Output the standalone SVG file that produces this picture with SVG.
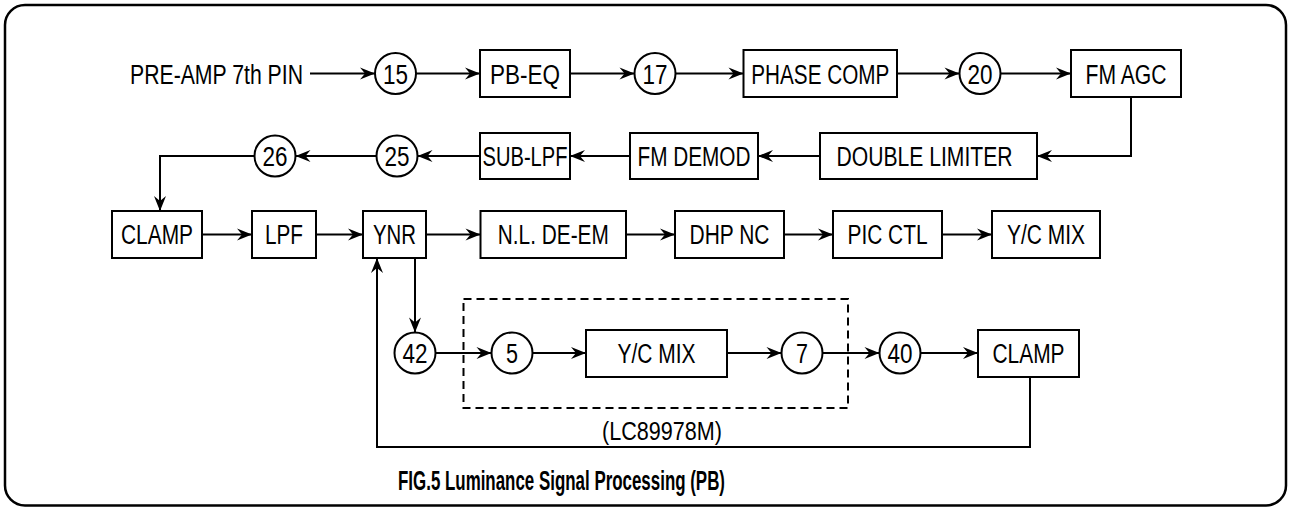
<svg xmlns="http://www.w3.org/2000/svg" width="1289" height="510" viewBox="0 0 1289 510">
<style>
.b{fill:#fff;stroke:#000;stroke-width:2}
.c{fill:#fff;stroke:#000;stroke-width:2}
.t{font-family:"Liberation Sans",Arial,sans-serif;font-size:27px;fill:#000;text-anchor:middle}
.l{fill:none;stroke:#000;stroke-width:2}
.d{fill:none;stroke:#000;stroke-width:2;stroke-dasharray:8 5}
.ti{font-family:"Liberation Sans",Arial,sans-serif;font-size:27px;font-weight:bold;fill:#000;text-anchor:middle}
</style>
<defs>
<marker id="ah" viewBox="-16 -7 17 14" refX="0" refY="0" markerWidth="17" markerHeight="14" markerUnits="userSpaceOnUse" orient="auto">
<path d="M0,0 L-15,-6 L-10,0 L-15,6 Z" fill="#000"/>
</marker>
</defs>
<rect x="5" y="5" width="1281" height="500.5" rx="20" ry="20" fill="none" stroke="#000" stroke-width="2.5"/>

<g id="connectors">
<path class="l" marker-end="url(#ah)" d="M310,73.5 H375"/>
<path class="l" marker-end="url(#ah)" d="M416,73.5 H480"/>
<path class="l" marker-end="url(#ah)" d="M570,73.5 H634.5"/>
<path class="l" marker-end="url(#ah)" d="M675.5,73.5 H743.5"/>
<path class="l" marker-end="url(#ah)" d="M897,73.5 H959.5"/>
<path class="l" marker-end="url(#ah)" d="M1000.5,73.5 H1071"/>
<path class="l" marker-end="url(#ah)" d="M1131,97 V156 H1037"/>
<path class="l" marker-end="url(#ah)" d="M820,156 H758"/>
<path class="l" marker-end="url(#ah)" d="M630,156 H570"/>
<path class="l" marker-end="url(#ah)" d="M480,156 H417.5"/>
<path class="l" marker-end="url(#ah)" d="M376.5,156 H295.5"/>
<path class="l" marker-end="url(#ah)" d="M254.5,156 H160 V211"/>
<path class="l" marker-end="url(#ah)" d="M202,234.5 H252"/>
<path class="l" marker-end="url(#ah)" d="M316,234.5 H363"/>
<path class="l" marker-end="url(#ah)" d="M426,234.5 H480.5"/>
<path class="l" marker-end="url(#ah)" d="M626,234.5 H675"/>
<path class="l" marker-end="url(#ah)" d="M784,234.5 H833"/>
<path class="l" marker-end="url(#ah)" d="M942,234.5 H992"/>
<path class="l" marker-end="url(#ah)" d="M415,258 V332.5"/>
<path class="l" marker-end="url(#ah)" d="M435.5,353 H491.5"/>
<path class="l" marker-end="url(#ah)" d="M532.5,353 H586"/>
<path class="l" marker-end="url(#ah)" d="M727,353 H781.5"/>
<path class="l" marker-end="url(#ah)" d="M822.5,353 H879.5"/>
<path class="l" marker-end="url(#ah)" d="M920.5,353 H978"/>
<path class="l" marker-end="url(#ah)" d="M1030,377 V447 H377 V258"/>
</g>

<g id="ic-box"><rect class="d" x="463.5" y="299" width="384.5" height="109"/><text class="t" x="662" y="440" textLength="120" lengthAdjust="spacingAndGlyphs" style="font-size:26px">(LC89978M)</text></g>

<g id="input"><text class="t" x="130" y="83.5" textLength="173" lengthAdjust="spacingAndGlyphs" style="text-anchor:start">PRE-AMP 7th PIN</text></g>
<g id="p15"><circle class="c" cx="395.5" cy="73.5" r="20.5"/><text class="t" x="395.5" y="83.5" textLength="25" lengthAdjust="spacingAndGlyphs">15</text></g>
<g id="pbeq"><rect class="b" x="480" y="50" width="90" height="47"/><text class="t" x="525" y="83.5" textLength="70" lengthAdjust="spacingAndGlyphs">PB-EQ</text></g>
<g id="p17"><circle class="c" cx="655" cy="73.5" r="20.5"/><text class="t" x="655" y="83.5" textLength="25" lengthAdjust="spacingAndGlyphs">17</text></g>
<g id="phase"><rect class="b" x="743.5" y="50" width="153.5" height="47"/><text class="t" x="820.3" y="83.5" textLength="138" lengthAdjust="spacingAndGlyphs">PHASE COMP</text></g>
<g id="p20"><circle class="c" cx="980" cy="73.5" r="20.5"/><text class="t" x="980" y="83.5" textLength="25" lengthAdjust="spacingAndGlyphs">20</text></g>
<g id="fmagc"><rect class="b" x="1071" y="50" width="110" height="47"/><text class="t" x="1126" y="83.5" textLength="81" lengthAdjust="spacingAndGlyphs">FM AGC</text></g>

<g id="dlim"><rect class="b" x="820" y="133" width="217" height="46"/><text class="t" x="924.5" y="165.5" textLength="176" lengthAdjust="spacingAndGlyphs">DOUBLE LIMITER</text></g>
<g id="fmdemod"><rect class="b" x="630" y="133" width="128" height="46"/><text class="t" x="694" y="165.5" textLength="113" lengthAdjust="spacingAndGlyphs">FM DEMOD</text></g>
<g id="sublpf"><rect class="b" x="480" y="133" width="90" height="46"/><text class="t" x="525" y="165.5" textLength="85" lengthAdjust="spacingAndGlyphs">SUB-LPF</text></g>
<g id="p25"><circle class="c" cx="397" cy="156" r="20.5"/><text class="t" x="397" y="165.5" textLength="25" lengthAdjust="spacingAndGlyphs">25</text></g>
<g id="p26"><circle class="c" cx="275" cy="156" r="20.5"/><text class="t" x="275" y="165.5" textLength="25" lengthAdjust="spacingAndGlyphs">26</text></g>

<g id="clamp1"><rect class="b" x="112" y="211" width="90" height="47"/><text class="t" x="157" y="244" textLength="72" lengthAdjust="spacingAndGlyphs">CLAMP</text></g>
<g id="lpf"><rect class="b" x="252" y="211" width="64" height="47"/><text class="t" x="284" y="244" textLength="38" lengthAdjust="spacingAndGlyphs">LPF</text></g>
<g id="ynr"><rect class="b" x="363" y="211" width="63" height="47"/><text class="t" x="394.5" y="244" textLength="43" lengthAdjust="spacingAndGlyphs">YNR</text></g>
<g id="nldeem"><rect class="b" x="480.5" y="211" width="145.5" height="47"/><text class="t" x="553.3" y="244" textLength="111" lengthAdjust="spacingAndGlyphs">N.L. DE-EM</text></g>
<g id="dhpnc"><rect class="b" x="675" y="211" width="109" height="47"/><text class="t" x="729.5" y="244" textLength="80" lengthAdjust="spacingAndGlyphs">DHP NC</text></g>
<g id="picctl"><rect class="b" x="833" y="211" width="109" height="47"/><text class="t" x="887.5" y="244" textLength="80" lengthAdjust="spacingAndGlyphs">PIC CTL</text></g>
<g id="ycmix1"><rect class="b" x="992" y="211" width="108" height="47"/><text class="t" x="1046" y="244" textLength="78" lengthAdjust="spacingAndGlyphs">Y/C MIX</text></g>

<g id="p42"><circle class="c" cx="415" cy="353" r="20.5"/><text class="t" x="415" y="362.5" textLength="25" lengthAdjust="spacingAndGlyphs">42</text></g>
<g id="p5"><circle class="c" cx="512" cy="353" r="20.5"/><text class="t" x="512" y="362.5" textLength="12" lengthAdjust="spacingAndGlyphs">5</text></g>
<g id="ycmix2"><rect class="b" x="586" y="330" width="141" height="47"/><text class="t" x="656.5" y="362.5" textLength="78" lengthAdjust="spacingAndGlyphs">Y/C MIX</text></g>
<g id="p7"><circle class="c" cx="802" cy="353" r="20.5"/><text class="t" x="802" y="362.5" textLength="12" lengthAdjust="spacingAndGlyphs">7</text></g>
<g id="p40"><circle class="c" cx="900" cy="353" r="20.5"/><text class="t" x="900" y="362.5" textLength="25" lengthAdjust="spacingAndGlyphs">40</text></g>
<g id="clamp2"><rect class="b" x="978" y="330" width="101" height="47"/><text class="t" x="1028.5" y="362.5" textLength="72" lengthAdjust="spacingAndGlyphs">CLAMP</text></g>

<g id="title"><text class="ti" x="561.5" y="490" textLength="327" lengthAdjust="spacingAndGlyphs">FIG.5 Luminance Signal Processing (PB)</text></g>
</svg>
